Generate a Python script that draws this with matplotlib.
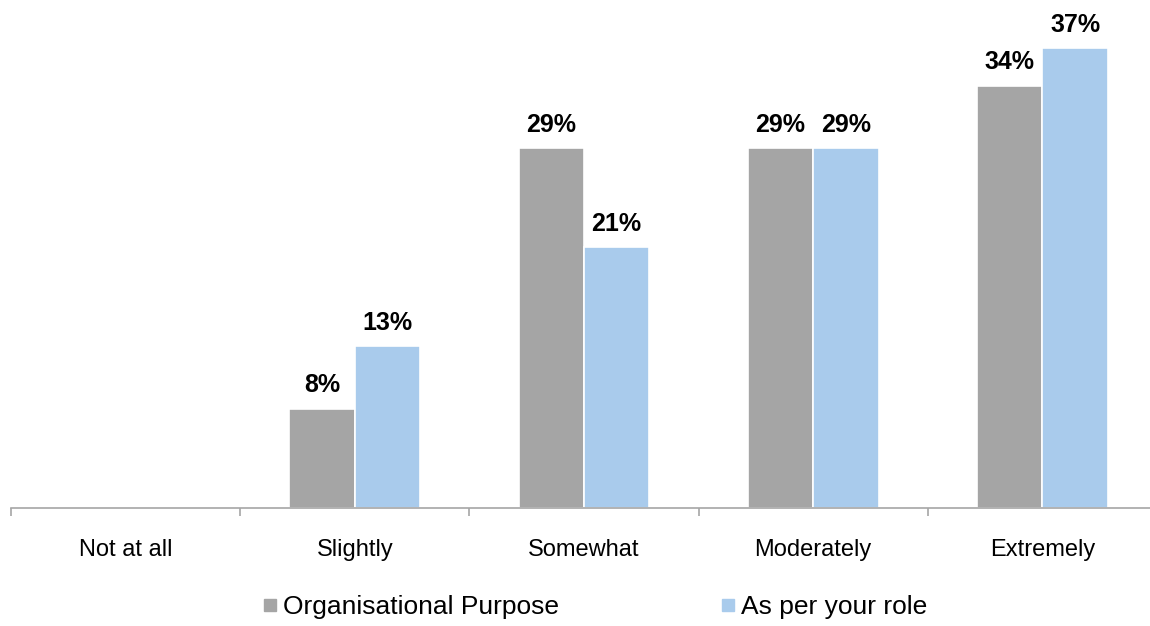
import numpy as np
import matplotlib.pyplot as plt
from matplotlib.lines import Line2D

plt.rcParams['font.family'] = ['Liberation Sans', 'DejaVu Sans']

categories = ['Not at all', 'Slightly', 'Somewhat', 'Moderately', 'Extremely']
org_purpose = [0, 8, 29, 29, 34]
your_role = [0, 13, 21, 29, 37]
series_names = ['Organisational Purpose', 'As per your role']
colors = ['#A5A5A5', '#A9CBEC']

W, H = 1150, 626
fig = plt.figure(figsize=(W / 100, H / 100), dpi=100)
# axes span from the left edge to the right edge, baseline at y=508 px
ax = fig.add_axes([11 / W, (H - 508) / H, (W - 11) / W, 497 / H])

x = np.arange(len(categories))
bw = 0.285
for vals, off, c in [(org_purpose, -bw / 2, colors[0]), (your_role, bw / 2, colors[1])]:
    bars = ax.bar(x + off, vals, width=bw, color=c, edgecolor='white', linewidth=1.2)
    for b, v in zip(bars, vals):
        if v > 0:
            ax.annotate(f'{v}%', (b.get_x() + b.get_width() / 2, v),
                        xytext=(0, 8), textcoords='offset points',
                        ha='center', va='bottom', fontsize=18, fontweight='bold')

ax.set_ylim(0, 40)
ax.set_xlim(-0.5, 4.5 - 7 / 229)
ax.set_yticks([])
for s in ['top', 'right', 'left']:
    ax.spines[s].set_visible(False)
ax.spines['bottom'].set_color('#A6A6A6')
ax.spines['bottom'].set_linewidth(1.2)

# boundary ticks between categories, labels in the middle
ax.set_xticks(np.arange(-0.5, 4.0, 1.0))
ax.set_xticklabels([])
ax.tick_params(axis='x', which='major', length=6, width=1.2, color='#A6A6A6')
ax.set_xticks(x, minor=True)
ax.set_xticklabels(categories, minor=True, fontsize=17)
ax.tick_params(axis='x', which='minor', length=0, pad=22)

handles = [Line2D([], [], marker='s', linestyle='none', markersize=8.5,
                  color=c) for c in colors]
fig.legend(handles, series_names, loc='center', bbox_to_anchor=(596 / W, 1 - 607 / H),
           ncol=2, frameon=False, fontsize=19, handlelength=0.4,
           handletextpad=0.3, columnspacing=6.2, borderpad=0)

fig.savefig('out.png', dpi=100)
